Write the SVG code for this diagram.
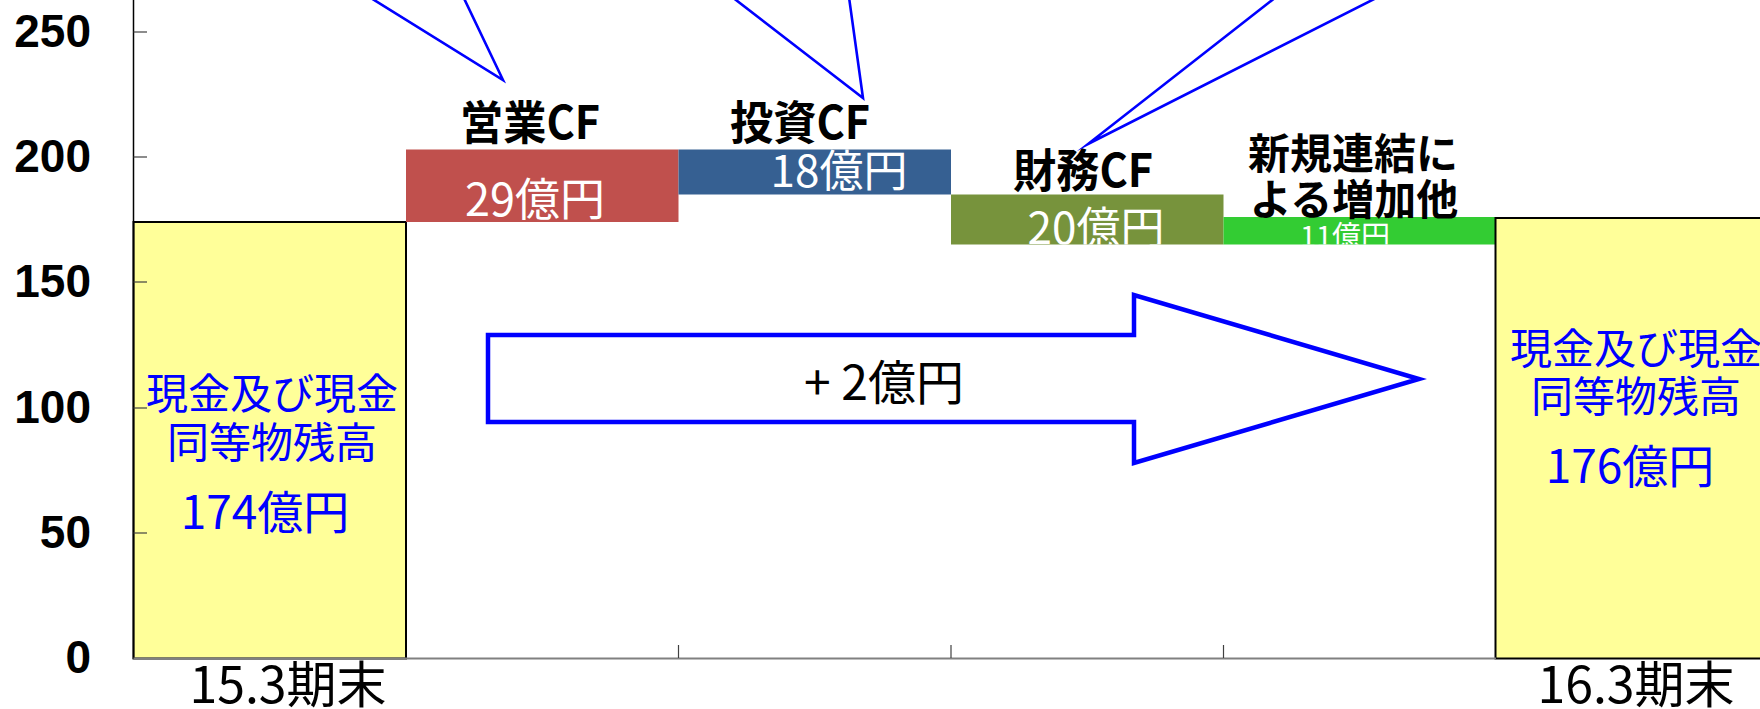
<svg xmlns="http://www.w3.org/2000/svg" width="1760" height="709" viewBox="0 0 1760 709">
<style>
.tick{stroke:#404040;stroke-width:1.2}
.ylab{font-family:"Liberation Sans",Arial,sans-serif;font-weight:bold;font-size:46px;fill:#000;text-anchor:end}
.jp{font-family:"Noto Sans CJK JP","Noto Sans",sans-serif}
.cat{font-size:42px;font-weight:bold;fill:#000;text-anchor:middle}
.val{font-size:44px;fill:#fff;text-anchor:middle}
.bal{font-size:42px;fill:#0000ff;text-anchor:middle}
.xlab{font-size:50px;fill:#000;text-anchor:middle}
.callout{fill:none;stroke:#0000ff;stroke-width:2.6;stroke-linejoin:miter;stroke-miterlimit:20}
</style>
<defs>
<clipPath id="clipOlive"><rect x="951" y="194.5" width="272.5" height="50"/></clipPath>
<clipPath id="clipGreen"><rect x="1223.5" y="217" width="272.5" height="27.5"/></clipPath>
</defs>
<rect width="1760" height="709" fill="#fff"/>

<g id="bar-start">
<rect x="133.5" y="222" width="272.5" height="436.5" fill="#ffff99" stroke="#000" stroke-width="2"/>
<text class="jp bal" x="272" y="409">現金及び現金</text>
<text class="jp bal" x="272" y="458">同等物残高</text>
<text class="jp bal" x="265" y="529" style="font-size:46px">174億円</text>
</g>

<g id="bar-operating">
<rect x="406" y="149.5" width="272.5" height="72.5" fill="#c0504d"/>
<text class="jp val" x="535" y="216" style="font-size:45px">29億円</text>
<text class="jp cat" x="530" y="139" style="font-size:46px" textLength="140" lengthAdjust="spacingAndGlyphs">営業CF</text>
</g>

<g id="bar-investing">
<rect x="678.5" y="149.5" width="272.5" height="45" fill="#366092"/>
<text class="jp val" x="839" y="187">18億円</text>
<text class="jp cat" x="800" y="139" style="font-size:46px" textLength="140" lengthAdjust="spacingAndGlyphs">投資CF</text>
</g>

<g id="bar-financing">
<rect x="951" y="194.5" width="272.5" height="50" fill="#77933c"/>
<text class="jp val" x="1096" y="244" clip-path="url(#clipOlive)">20億円</text>
<text class="jp cat" x="1083" y="187" style="font-size:46px" textLength="140" lengthAdjust="spacingAndGlyphs">財務CF</text>
</g>

<g id="bar-other">
<rect x="1223.5" y="217" width="272.5" height="27.5" fill="#33cc33"/>
<text class="jp val" x="1345" y="247" style="font-size:29px" clip-path="url(#clipGreen)">11億円</text>
<text class="jp cat" x="1353" y="169">新規連結に</text>
<text class="jp cat" x="1354" y="215">よる増加他</text>
</g>

<g id="bar-end">
<rect x="1495.5" y="218" width="300" height="440.5" fill="#ffff99" stroke="#000" stroke-width="2"/>
<text class="jp bal" x="1636" y="364">現金及び現金</text>
<text class="jp bal" x="1636" y="412">同等物残高</text>
<text class="jp bal" x="1630" y="483" style="font-size:46px">176億円</text>
</g>

<g id="axes">
<line x1="133.5" y1="0" x2="133.5" y2="659" stroke="#000" stroke-width="1.5"/>
<line x1="133.5" y1="658.5" x2="1496" y2="658.5" stroke="#808080" stroke-width="2"/>
<line class="tick" x1="133.5" y1="32" x2="147" y2="32"/>
<line class="tick" x1="133.5" y1="157" x2="147" y2="157"/>
<line class="tick" x1="133.5" y1="282" x2="147" y2="282"/>
<line class="tick" x1="133.5" y1="408" x2="147" y2="408"/>
<line class="tick" x1="133.5" y1="533" x2="147" y2="533"/>
<line class="tick" x1="678.5" y1="645" x2="678.5" y2="658"/>
<line class="tick" x1="951" y1="645" x2="951" y2="658"/>
<line class="tick" x1="1223.5" y1="645" x2="1223.5" y2="658"/>
<text class="ylab" x="91" y="47">250</text>
<text class="ylab" x="91" y="172">200</text>
<text class="ylab" x="91" y="297">150</text>
<text class="ylab" x="91" y="423">100</text>
<text class="ylab" x="91" y="548">50</text>
<text class="ylab" x="91" y="673">0</text>
<text class="jp xlab" x="288" y="703">15.3期末</text>
<text class="jp xlab" x="1636" y="703">16.3期末</text>
</g>

<g id="change-arrow">
<polygon points="488,335 1134,335 1134,295 1419,379 1134,463 1134,422 488,422" fill="#fff" stroke="#0000ff" stroke-width="4.5"/>
<text class="jp" x="884" y="400" style="font-size:48px;fill:#000;text-anchor:middle">+ 2億円</text>
</g>

<g id="connectors">
<polyline class="callout" points="358,-10 503,80 460,-10"/>
<polyline class="callout" points="723,-10 863,98 848,-10"/>
<polyline class="callout" points="1285,-10 1088,144 1392,-10"/>
</g>
</svg>
